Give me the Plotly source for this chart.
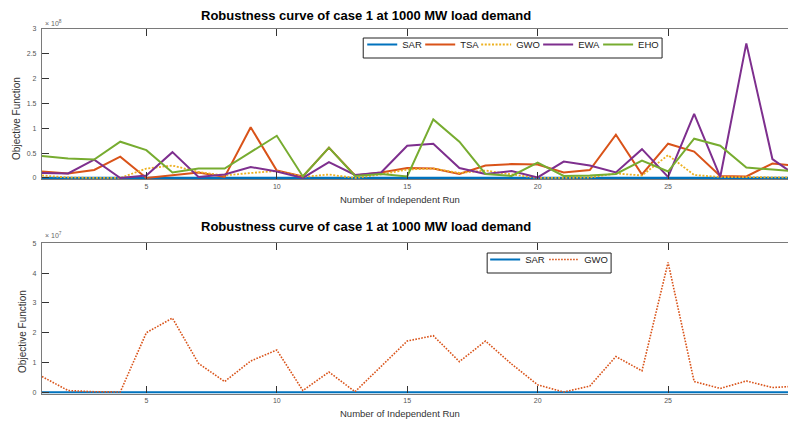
import plotly.graph_objects as go

runs = list(range(1, 31))

# Top chart values (x 1e8)
sar_top = [0.0] * 30
tsa = [0.13, 0.09, 0.16, 0.43, 0.00, 0.05, 0.11, 0.02, 1.02, 0.15,
       0.03, 0.61, 0.05, 0.11, 0.20, 0.19, 0.08, 0.25, 0.28, 0.27,
       0.11, 0.16, 0.87, 0.07, 0.69, 0.53, 0.04, 0.03, 0.29, 0.24]
gwo_top = [0.05, 0.01, 0.00, 0.00, 0.19, 0.25, 0.12, 0.05, 0.10, 0.14,
           0.02, 0.07, 0.00, 0.07, 0.17, 0.19, 0.10, 0.15, 0.07, 0.00,
           0.00, 0.01, 0.09, 0.05, 0.46, 0.06, 0.02, 0.02, 0.01, 0.01]
ewa = [0.10, 0.09, 0.37, 0.00, 0.05, 0.52, 0.02, 0.07, 0.22, 0.13,
       0.00, 0.32, 0.06, 0.11, 0.65, 0.69, 0.20, 0.08, 0.14, 0.01,
       0.33, 0.25, 0.11, 0.58, 0.02, 1.29, 0.02, 2.71, 0.38, 0.01]
eho = [0.44, 0.39, 0.37, 0.73, 0.56, 0.11, 0.19, 0.19, 0.52, 0.85,
       0.03, 0.61, 0.04, 0.08, 0.03, 1.18, 0.73, 0.08, 0.04, 0.31,
       0.04, 0.05, 0.08, 0.35, 0.13, 0.79, 0.65, 0.21, 0.17, 0.13]

# Bottom chart values (x 1e7)
sar_bot = [0.0] * 30
gwo_bot = [0.53, 0.06, 0.02, 0.01, 2.00, 2.49, 0.97, 0.36, 1.05, 1.42,
           0.06, 0.68, 0.02, 0.88, 1.72, 1.90, 1.03, 1.72, 0.95, 0.25,
           0.01, 0.21, 1.20, 0.72, 4.36, 0.36, 0.13, 0.38, 0.16, 0.21]

x_ticks = [5, 10, 15, 20, 25, 30]
top_y_ticks = [0, 0.5, 1, 1.5, 2, 2.5, 3]
top_y_labels = ["0", "0.5", "1", "1.5", "2", "2.5", "3"]
bot_y_ticks = [0, 1, 2, 3, 4, 5]

title_text = "Robustness curve of case 1 at 1000 MW load demand"
xlabel = "Number of Independent Run"
ylabel = "Objective Function"

C_SAR = "#0072BD"
C_TSA = "#D95319"
C_GWO = "#EDB120"
C_EWA = "#7E2F8E"
C_EHO = "#77AC30"

FONT = "Liberation Sans, Arial, sans-serif"

# page has an 8px body margin: figure drawn at (8, 8)
OFF = 8
W, H = 788, 416
L = 41.6 - OFF

def fy(py_screen):
    return 1 - (py_screen - OFF) / H

def fx(px_screen):
    return (px_screen - OFF - L) / (W - L)

fig = go.Figure()

legend_layouts = {}
lg_count = [0]

def add(x, y, name, color, dash, width, xa, ya, lx, ly):
    lg_count[0] += 1
    key = "legend" if lg_count[0] == 1 else "legend%d" % lg_count[0]
    legend_layouts[key] = dict(
        x=fx(lx - 6), y=fy(ly), xanchor="left", yanchor="top",
        orientation="h", bgcolor="rgba(0,0,0,0)", borderwidth=0,
        font=dict(family=FONT, size=9.5, color="#222222"), itemwidth=30)
    fig.add_trace(go.Scatter(x=x, y=y, name=name, mode="lines",
                             line=dict(color=color, dash=dash, width=width),
                             xaxis=xa, yaxis=ya, legend=key))

add(runs, sar_top, "SAR", C_SAR, "solid", 2.2, "x", "y", 368, 30)
add(runs, tsa, "TSA", C_TSA, "solid", 2, "x", "y", 426, 30)
add(runs, gwo_top, "GWO", C_GWO, "2px,1.6px", 1.8, "x", "y", 482, 30)
add(runs, ewa, "EWA", C_EWA, "solid", 2, "x", "y", 544, 30)
add(runs, eho, "EHO", C_EHO, "solid", 2, "x", "y", 604, 30)

add(runs, sar_bot, "SAR", C_SAR, "solid", 2.2, "x2", "y2", 491, 245)
add(runs, gwo_bot, "GWO", C_TSA, "1.6px,1.4px", 1.6, "x2", "y2", 550, 245)

axis_common = dict(
    showline=True, linecolor="#7a7a7a", linewidth=1.2, mirror="ticks",
    ticks="inside", ticklen=7, tickwidth=1, tickcolor="#333333",
    showgrid=False, zeroline=False,
    tickfont=dict(family=FONT, size=7, color="#555555"),
)

xr = [1, 1 + (W - L) / 26.1]

fig.update_layout(
    width=W, height=H,
    margin=dict(l=L, r=0, t=0, b=0, autoexpand=False),
    paper_bgcolor="white", plot_bgcolor="white",
    font=dict(family=FONT),
    xaxis=dict(domain=[0, 1], range=xr, tickvals=x_ticks, anchor="y", **axis_common),
    yaxis=dict(domain=[fy(179.2), fy(29)], range=[-0.025, 3], tickvals=top_y_ticks,
               ticktext=top_y_labels, anchor="x", ticklabelstandoff=3, **axis_common),
    xaxis2=dict(domain=[0, 1], range=xr, tickvals=x_ticks, anchor="y2", **axis_common),
    yaxis2=dict(domain=[fy(393.5), fy(243.3)], range=[-0.04, 5], tickvals=bot_y_ticks,
                anchor="x2", ticklabelstandoff=3, **axis_common),
    showlegend=True,
    **legend_layouts,
)

shapes = []
for x0, x1, y0, y1 in ((363, 662, 38, 58), (487, 611, 253, 273)):
    shapes.append(dict(type="rect", xref="paper", yref="paper",
                       x0=fx(x0), x1=fx(x1), y0=fy(y1), y1=fy(y0),
                       line=dict(color="#222222", width=1), fillcolor="white",
                       layer="above"))
fig.update_layout(shapes=shapes)

ann = []
for py in (15.5, 226):
    ann.append(dict(text="<b>" + title_text + "</b>", x=fx(366), y=fy(py), xref="paper",
                    yref="paper", showarrow=False, xanchor="center", yanchor="middle",
                    font=dict(family=FONT, size=13, color="black")))
for py in (199, 413):
    ann.append(dict(text=xlabel, x=fx(399.5), y=fy(py), xref="paper", yref="paper",
                    showarrow=False, xanchor="center", yanchor="middle",
                    font=dict(family=FONT, size=9.5, color="#333333")))
for px, py in ((16, 118.5), (22, 331.5)):
    ann.append(dict(text=ylabel, x=fx(px), y=fy(py), xref="paper", yref="paper",
                    showarrow=False, xanchor="center", yanchor="middle", textangle=-90,
                    font=dict(family=FONT, size=10, color="#333333")))
for py, e in ((23, "8"), (235, "7")):
    ann.append(dict(text="× 10<sup>" + e + "</sup>", x=fx(43), y=fy(py), xref="paper",
                    yref="paper", showarrow=False, xanchor="left", yanchor="middle",
                    font=dict(family=FONT, size=7, color="#666666")))
fig.update_layout(annotations=ann)

fig.write_html("out.html")
